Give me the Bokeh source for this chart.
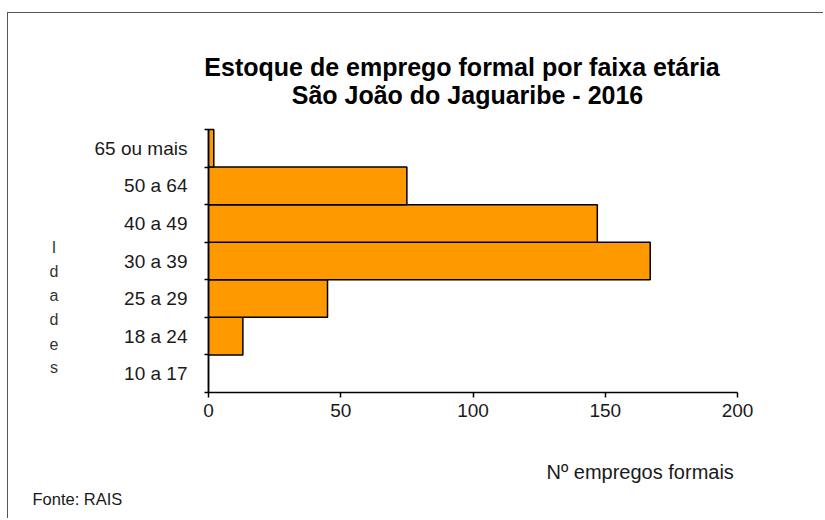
from bokeh.plotting import figure
from bokeh.models import Range1d, FixedTicker, Label, LinearAxis
from bokeh.embed import file_html
from bokeh.resources import INLINE

# ---- data ----
age_groups = ["10 a 17", "18 a 24", "25 a 29", "30 a 39", "40 a 49", "50 a 64", "65 ou mais"]
employees = [0, 13, 45, 167, 147, 75, 2]
x_ticks = [0, 50, 100, 150, 200]
title_lines = ["Estoque  de emprego formal por faixa etária", "São João do Jaguaribe - 2016"]
y_title = "Idades"
x_title = "Nº empregos formais"
source_note = "Fonte: RAIS"

FONT = "Liberation Sans"
TXT = "#1a1a1a"

# ---- page geometry (pixels) ----
OX, OY = 8, 13                          # canvas origin on page (after margin + border)
W, H = 816, 506
FL, FT, FR, FB = 208, 129, 737, 392     # plot-area edges on page
X0, X1 = 0, 200
Y0, Y1 = 0, len(age_groups)
sx = (FR - FL) / (X1 - X0)
sy = (FB - FT) / (Y1 - Y0)

def dx(px):
    return X0 + (px - FL) / sx

def dy(py):
    return Y0 + (FB - py) / sy

positions = [i + 0.5 for i in range(len(age_groups))]

p = figure(width=W, height=H, output_backend="svg", toolbar_location=None,
           title_location=None, x_axis_location=None, y_axis_location=None,
           x_range=Range1d(dx(OX), dx(OX + W)), y_range=Range1d(dy(OY + H), dy(OY)),
           min_border=0)
p.margin = (12, 0, 0, 7)
p.styles = {"border-left": "1px solid #555555", "border-top": "1px solid #555555"}
p.outline_line_color = None
p.background_fill_color = "white"
p.border_fill_color = "white"
p.xgrid.visible = False
p.ygrid.visible = False

p.hbar(y=positions, right=employees, left=0, height=1.0,
       fill_color="#FF9900", line_color="black", line_width=1.5)

# x axis
xa = LinearAxis(fixed_location=Y0, bounds=(X0, X1), ticker=FixedTicker(ticks=x_ticks))
xa.axis_line_color = "black"
xa.axis_line_width = 1.5
xa.major_tick_line_color = "black"
xa.major_tick_line_width = 1.5
xa.major_tick_out = 5
xa.major_tick_in = 0
xa.minor_tick_line_color = None
xa.major_label_text_font = FONT
xa.major_label_text_font_size = "19px"
xa.major_label_text_color = TXT
xa.major_label_standoff = 6
p.add_layout(xa, "below")

# y axis: labels at category centres, ticks at category boundaries
ya = LinearAxis(fixed_location=X0, bounds=(Y0, Y1),
                ticker=FixedTicker(ticks=positions, minor_ticks=list(range(Y0, Y1 + 1))))
ya.major_label_overrides = {pos: lab for pos, lab in zip(positions, age_groups)}
ya.axis_line_color = "black"
ya.axis_line_width = 1.5
ya.major_tick_out = 0
ya.major_tick_in = 0
ya.major_tick_line_color = None
ya.minor_tick_out = 4
ya.minor_tick_in = 0
ya.minor_tick_line_color = "black"
ya.minor_tick_line_width = 1.5
ya.major_label_text_font = FONT
ya.major_label_text_font_size = "19px"
ya.major_label_text_color = TXT
ya.major_label_standoff = 17
p.add_layout(ya, "left")


def add_text(text, px, py, size, align="left", bold=False, color=TXT):
    """Place text at page position (px, py = baseline)."""
    p.add_layout(Label(x=dx(px), y=dy(py), text=text,
                       text_font=FONT, text_font_size=size,
                       text_font_style="bold" if bold else "normal",
                       text_color=color, text_align=align, text_baseline="alphabetic"))


add_text(title_lines[0], 465, 66, "25px", align="center", bold=True, color="black")
add_text(title_lines[1], 467, 94, "25px", align="center", bold=True, color="black")

for k, ch in enumerate(y_title):
    add_text(ch, 53.5, 247 + 24 * k, "16px", align="center", color="#333333")

add_text(x_title, 546, 471, "20px")
add_text(source_note, 32, 498, "16.5px")

open("out.html", "w").write(file_html(p, INLINE))
